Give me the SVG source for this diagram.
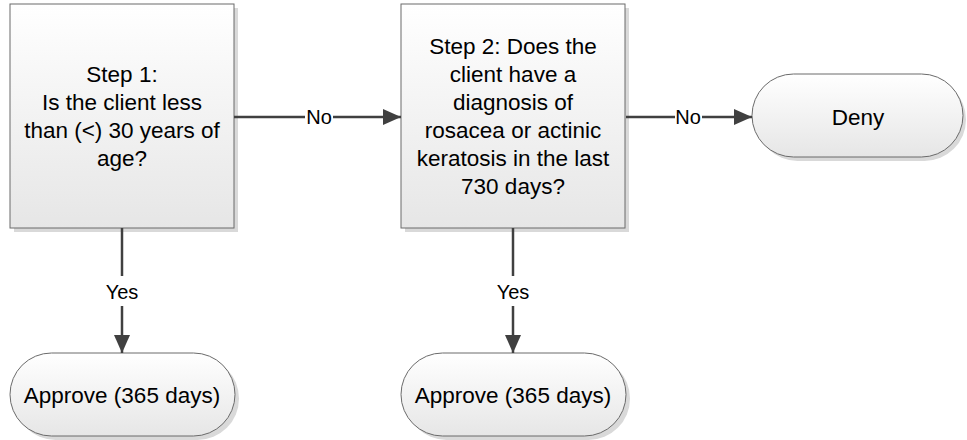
<svg xmlns="http://www.w3.org/2000/svg" width="967" height="440" viewBox="0 0 967 440">
<defs>
<linearGradient id="g" x1="0" y1="0" x2="0" y2="1">
<stop offset="0" stop-color="#ffffff"/>
<stop offset="1" stop-color="#e6e6e6"/>
</linearGradient>
<marker id="arr" markerWidth="18" markerHeight="16" refX="18" refY="8" orient="auto" markerUnits="userSpaceOnUse">
<path d="M0,0 L18,8 L0,16 Z" fill="#404040"/>
</marker>
<style>
.box{fill:url(#g);stroke:#6b6b6b;stroke-width:1}
.sh{fill:#d9d9d9}
.t{font-family:"Liberation Sans",Arial,sans-serif;font-size:22.5px;fill:#000;text-anchor:middle}
.lbl{font-family:"Liberation Sans",Arial,sans-serif;font-size:20px;fill:#000;text-anchor:middle}
.c{stroke:#404040;stroke-width:2.5;fill:none}
</style>
</defs>
<rect width="967" height="440" fill="#fff"/>
<g id="step1">
<rect class="sh" x="14" y="8" width="224" height="224"/>
<rect class="box" x="10" y="4" width="224" height="224"/>
<text class="t" x="122" y="82">Step 1:</text>
<text class="t" x="122" y="110">Is the client less</text>
<text class="t" x="122" y="138">than (&lt;) 30 years of</text>
<text class="t" x="122" y="166">age?</text>
</g>
<g id="step2">
<rect class="sh" x="405" y="8" width="224" height="224"/>
<rect class="box" x="401" y="4" width="224" height="224"/>
<text class="t" x="513" y="54">Step 2: Does the</text>
<text class="t" x="513" y="82">client have a</text>
<text class="t" x="513" y="110">diagnosis of</text>
<text class="t" x="513" y="138">rosacea or actinic</text>
<text class="t" x="513" y="166">keratosis in the last</text>
<text class="t" x="513" y="194">730 days?</text>
</g>
<g id="deny">
<rect class="sh" x="756" y="78" width="210" height="83" rx="41.5"/>
<rect class="box" x="752" y="74" width="211" height="83" rx="41.5"/>
<text class="t" x="858" y="125">Deny</text>
</g>
<g id="approve1">
<rect class="sh" x="14" y="357" width="225" height="83" rx="41.5"/>
<rect class="box" x="10" y="353" width="225" height="83" rx="41.5"/>
<text class="t" x="122" y="403">Approve (365 days)</text>
</g>
<g id="approve2">
<rect class="sh" x="405" y="357" width="225" height="83" rx="41.5"/>
<rect class="box" x="401" y="353" width="225" height="83" rx="41.5"/>
<text class="t" x="513" y="403">Approve (365 days)</text>
</g>
<g id="connectors">
<path class="c" d="M234,117 H305"/>
<path class="c" d="M333,117 H401" marker-end="url(#arr)"/>
<text class="lbl" x="319" y="124">No</text>
<path class="c" d="M626,117 H675"/>
<path class="c" d="M702,117 H752" marker-end="url(#arr)"/>
<text class="lbl" x="688" y="124">No</text>
<path class="c" d="M122,228 V276"/>
<path class="c" d="M122,306 V353" marker-end="url(#arr)"/>
<text class="lbl" x="122" y="299">Yes</text>
<path class="c" d="M513,228 V276"/>
<path class="c" d="M513,306 V353" marker-end="url(#arr)"/>
<text class="lbl" x="513" y="299">Yes</text>
</g>
</svg>
